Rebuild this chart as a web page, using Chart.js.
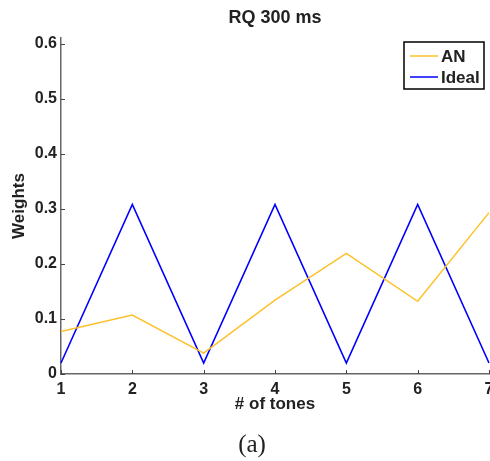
<!DOCTYPE html>
<html>
<head>
<meta charset="utf-8">
<script src="https://cdn.jsdelivr.net/npm/chart.js@4.4.1/dist/chart.umd.min.js"></script>
<style>
  html, body { margin: 0; padding: 0; background: #fff; overflow: hidden; width: 490px; height: 461px; }
  canvas { display: block; }
</style>
</head>
<body>
<canvas id="chart" width="510" height="461"></canvas>
<script>
// data
const tones = ['1', '2', '3', '4', '5', '6', '7'];
const anWeights = [0.077, 0.107, 0.038, 0.134, 0.219, 0.132, 0.293];
const idealWeights = [0.02, 0.308, 0.02, 0.308, 0.02, 0.308, 0.02];
const yTickValues = [0, 0.1, 0.2, 0.3, 0.4, 0.5, 0.6];

const TXT = '#222';
const AXIS = '#666';
const SANS = '"Liberation Sans", Arial, Helvetica, sans-serif';

// matlab style inward tick marks
const inwardTicks = {
  id: 'inwardTicks',
  afterDatasetsDraw(chart) {
    const {ctx, chartArea: a, scales: {x, y}} = chart;
    ctx.save();
    ctx.strokeStyle = '#444';
    ctx.lineWidth = 1;
    y.ticks.forEach((t, i) => {
      const py = Math.round(y.getPixelForTick(i)) + 0.5;
      ctx.beginPath(); ctx.moveTo(a.left, py); ctx.lineTo(a.left + 4, py); ctx.stroke();
    });
    x.ticks.forEach((t, i) => {
      const px = Math.round(x.getPixelForTick(i)) + 0.5;
      ctx.beginPath(); ctx.moveTo(px, a.bottom); ctx.lineTo(px, a.bottom - 4); ctx.stroke();
    });
    ctx.restore();
  }
};

// boxed legend in the upper right corner
const boxLegend = {
  id: 'boxLegend',
  afterDraw(chart) {
    const {ctx, chartArea: a} = chart;
    const w = 80, h = 47;
    const x0 = a.right - 5 - w, y0 = a.top + 4;
    ctx.save();
    ctx.fillStyle = '#fff';
    ctx.fillRect(x0, y0, w, h);
    ctx.strokeStyle = '#000';
    ctx.lineWidth = 1.5;
    ctx.strokeRect(x0, y0, w, h);
    ctx.font = 'bold 17px ' + SANS;
    ctx.textBaseline = 'middle';
    chart.data.datasets.forEach((ds, i) => {
      const cy = y0 + 14 + i * 21;
      ctx.strokeStyle = ds.borderColor;
      ctx.lineWidth = 1.5;
      ctx.beginPath(); ctx.moveTo(x0 + 6, cy); ctx.lineTo(x0 + 34, cy); ctx.stroke();
      ctx.fillStyle = TXT;
      ctx.fillText(ds.label, x0 + 37, cy + 1);
    });
    ctx.restore();
  }
};

new Chart(document.getElementById('chart'), {
  type: 'line',
  data: {
    labels: tones,
    datasets: [
      { label: 'AN', data: anWeights, borderColor: '#FDC12A', borderWidth: 1.5, pointRadius: 0, tension: 0 },
      { label: 'Ideal', data: idealWeights, borderColor: '#0000FF', borderWidth: 1.6, pointRadius: 0, tension: 0 }
    ]
  },
  options: {
    responsive: false,
    animation: false,
    layout: { padding: { right: 6 } },
    plugins: {
      legend: { display: false },
      tooltip: { enabled: false },
      title: {
        display: true, text: 'RQ 300 ms', fullSize: false, color: TXT,
        font: { family: SANS, size: 18, weight: 'bold' },
        padding: { top: 7, bottom: 9.4 }
      },
      subtitle: {
        display: true, text: '(a)', position: 'bottom', color: TXT,
        font: { family: '"Liberation Serif", "Times New Roman", serif', size: 25, weight: 'normal' },
        padding: { top: 6, bottom: 1 }
      }
    },
    scales: {
      x: {
        offset: false,
        grid: { display: false, drawTicks: false },
        border: { display: true, color: AXIS, width: 1.5 },
        ticks: { color: TXT, padding: 6, maxRotation: 0, autoSkip: false, font: { family: SANS, size: 16, weight: 'bold' } },
        title: {
          display: true, text: '# of tones', color: TXT,
          font: { family: SANS, size: 17, weight: 'bold' },
          padding: { top: 0, bottom: 9 }
        },
        afterFit: s => { s.height = 50; s.paddingRight = 21; }
      },
      y: {
        min: 0, max: 0.61,
        afterBuildTicks: s => { s.ticks = yTickValues.map(v => ({ value: v })); },
        grid: { display: false, drawTicks: false },
        border: { display: true, color: AXIS, width: 1.5 },
        ticks: { color: TXT, padding: 4, callback: v => String(v), font: { family: SANS, size: 16, weight: 'bold' } },
        title: {
          display: true, text: 'Weights', color: TXT,
          font: { family: SANS, size: 17, weight: 'bold' },
          padding: { top: 9, bottom: 0 }
        },
        afterFit: s => { s.width = 61; }
      }
    }
  },
  plugins: [inwardTicks, boxLegend]
});
</script>
</body>
</html>
